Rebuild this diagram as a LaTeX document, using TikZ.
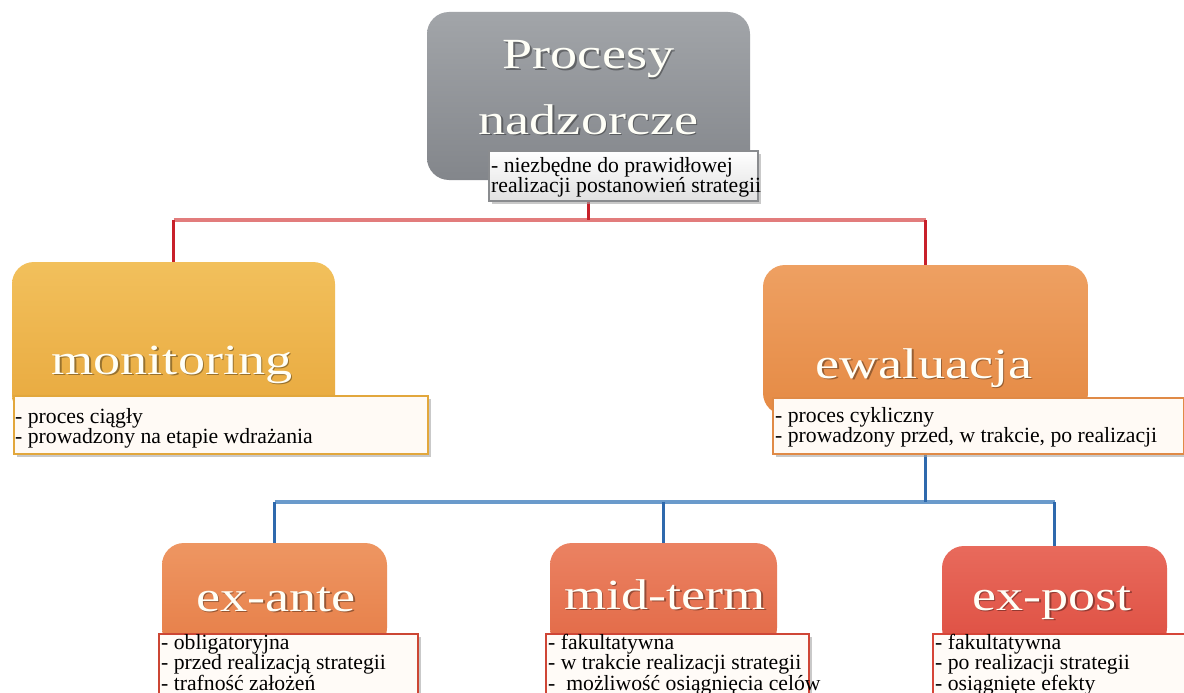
\documentclass[tikz,border=0pt]{standalone}
\usepackage{fontspec}
\setmainfont{Liberation Serif}
\newfontfamily\capfont{Liberation Serif}
\newfontfamily\titfont{Liberation Serif}[FakeStretch=1.26]
\usetikzlibrary{shadows,backgrounds}
\definecolor{grayT}{HTML}{A2A5A9}
\definecolor{grayB}{HTML}{83868B}
\definecolor{monT}{HTML}{F2C05C}
\definecolor{monB}{HTML}{E8A93E}
\definecolor{ewaT}{HTML}{EEA062}
\definecolor{ewaB}{HTML}{E58A44}
\definecolor{antT}{HTML}{EE9662}
\definecolor{antB}{HTML}{E67E48}
\definecolor{midT}{HTML}{EB8262}
\definecolor{midB}{HTML}{E26946}
\definecolor{posT}{HTML}{E86A5C}
\definecolor{posB}{HTML}{DE4F42}
\definecolor{redV}{HTML}{C8202A}
\definecolor{redH}{HTML}{E27C7C}
\definecolor{bluV}{HTML}{2E69AD}
\definecolor{bluH}{HTML}{6A9ACB}
\definecolor{edgeP}{HTML}{8A8C8F}
\definecolor{edgeM}{HTML}{E2A73C}
\definecolor{edgeE}{HTML}{E08A46}
\definecolor{edgeA}{HTML}{CC4634}
\definecolor{edgeT}{HTML}{CF4636}
\definecolor{edgeX}{HTML}{D64538}
\begin{document}
\begin{tikzpicture}[x=1pt,y=-1pt,
  tbox/.style={rectangle, rounded corners=22pt, inner sep=0pt, draw=none},
  cbox/.style={rectangle, inner sep=0pt, line width=2.2pt, anchor=north west,
    drop shadow={shadow xshift=2.5pt, shadow yshift=-2.5pt, fill=black!35, opacity=0.6}},
  ctext/.style={anchor=north west, inner sep=0pt, align=left, text=black,
    font=\capfont\fontsize{21.7}{20.5}\selectfont},
  ttext/.style={anchor=base, inner sep=0pt, text=white!97!yellow,
    font=\titfont\fontsize{43}{50}\selectfont},
  tshad/.style={ttext, text=black, opacity=0.35, xshift=1.6pt, yshift=-1.6pt},
  rv/.style={draw=redV, line width=3pt},
  rh/.style={draw=redH, line width=3.2pt},
  bv/.style={draw=bluV, line width=3pt},
  bh/.style={draw=bluH, line width=3.2pt}]
\useasboundingbox (0,0) rectangle (1184,693);
\begin{scope}[on background layer]
\fill[white] (0,0) rectangle (1184,693);
\end{scope}
\clip (0,0) rectangle (1184,693);

% title boxes
\node[tbox, top color=grayT, bottom color=grayB, minimum width=323pt, minimum height=168pt] (P) at (588.5,96) {};
\node[tbox, top color=monT, bottom color=monB, minimum width=323pt, minimum height=155pt] (M) at (173.5,339.5) {};
\node[tbox, top color=ewaT, bottom color=ewaB, minimum width=325pt, minimum height=150pt] (E) at (925.5,340) {};
\node[tbox, top color=antT, bottom color=antB, minimum width=225pt, minimum height=107pt] (A) at (274.5,596.5) {};
\node[tbox, top color=midT, bottom color=midB, minimum width=227pt, minimum height=107pt] (T) at (663.5,596.5) {};
\node[tbox, top color=posT, bottom color=posB, minimum width=225pt, minimum height=104pt] (X) at (1054.5,598) {};

% title text shadows
\node[tshad] (P1s) at (588.5,69) {Procesy};
\node[tshad] (P2s) at (588.5,134) {nadzorcze};
\node[tshad] (M1s) at (172,374) {monitoring};
\node[tshad] (E1s) at (924,378) {ewaluacja};
\node[tshad] (A1s) at (276,611) {ex-ante};
\node[tshad] (T1s) at (665,609) {mid-term};
\node[tshad] (X1s) at (1052,610) {ex-post};
% title texts
\node[ttext] (P1) at (588.5,69) {Procesy};
\node[ttext] (P2) at (588.5,134) {nadzorcze};
\node[ttext] (M1) at (172,374) {monitoring};
\node[ttext] (E1) at (924,378) {ewaluacja};
\node[ttext] (A1) at (276,611) {ex-ante};
\node[ttext] (T1) at (665,609) {mid-term};
\node[ttext] (X1) at (1052,610) {ex-post};

% caption boxes
\node[cbox, draw=edgeP, top color=white, bottom color=black!12, minimum width=269pt, minimum height=50pt] (cP) at (488,150) {};
\node[cbox, draw=edgeM, fill=white!96!orange, minimum width=414pt, minimum height=58pt] (cM) at (13,395) {};
\node[cbox, draw=edgeE, fill=white!96!orange, minimum width=411pt, minimum height=56pt] (cE) at (772,397) {};
\node[cbox, draw=edgeA, fill=white!97!orange, minimum width=259pt, minimum height=90pt] (cA) at (158,633) {};
\node[cbox, draw=edgeT, fill=white!97!orange, minimum width=263pt, minimum height=90pt] (cT) at (545,633) {};
\node[cbox, draw=edgeX, fill=white!97!orange, minimum width=280pt, minimum height=90pt] (cX) at (932,633) {};

% caption texts
\node[ctext] (tP) at (491,157) {- niezbędne do prawidłowej\\realizacji postanowień strategii};
\node[ctext] (tM) at (15,408) {- proces ciągły\\- prowadzony na etapie wdrażania};
\node[ctext] (tE) at (775,407) {- proces cykliczny\\- prowadzony przed, w trakcie, po realizacji};
\node[ctext] (tA) at (161,634) {- obligatoryjna\\- przed realizacją strategii\\- trafność założeń};
\node[ctext] (tT) at (548,634) {- fakultatywna\\- w trakcie realizacji strategii\\-\ \ możliwość osiągnięcia celów};
\node[ctext] (tX) at (935,634) {- fakultatywna\\- po realizacji strategii\\- osiągnięte efekty};

% connectors
\coordinate (jR) at (588.5,220);
\coordinate (jB) at (925.5,502);
\begin{scope}[on background layer]
\coordinate (jRM) at (M.north |- jR);
\coordinate (jRE) at (E.north |- jR);
\coordinate (jBA) at (A.north |- jB);
\coordinate (jBT) at (T.north |- jB);
\coordinate (jBX) at (X.north |- jB);
\draw[rh] (jRM) -- (jRE);
\draw[rv] (P.south) -- (jR);
\draw[rv] (jRM) -- (M.north);
\draw[rv] (jRE) -- (E.north);
\draw[bh] (jBA) -- (jBX);
\draw[bv] (E.south) -- (jB);
\draw[bv] (jBA) -- (A.north);
\draw[bv] (jBT) -- (T.north);
\draw[bv] (jBX) -- (X.north);
\end{scope}
\end{tikzpicture}
\end{document}
